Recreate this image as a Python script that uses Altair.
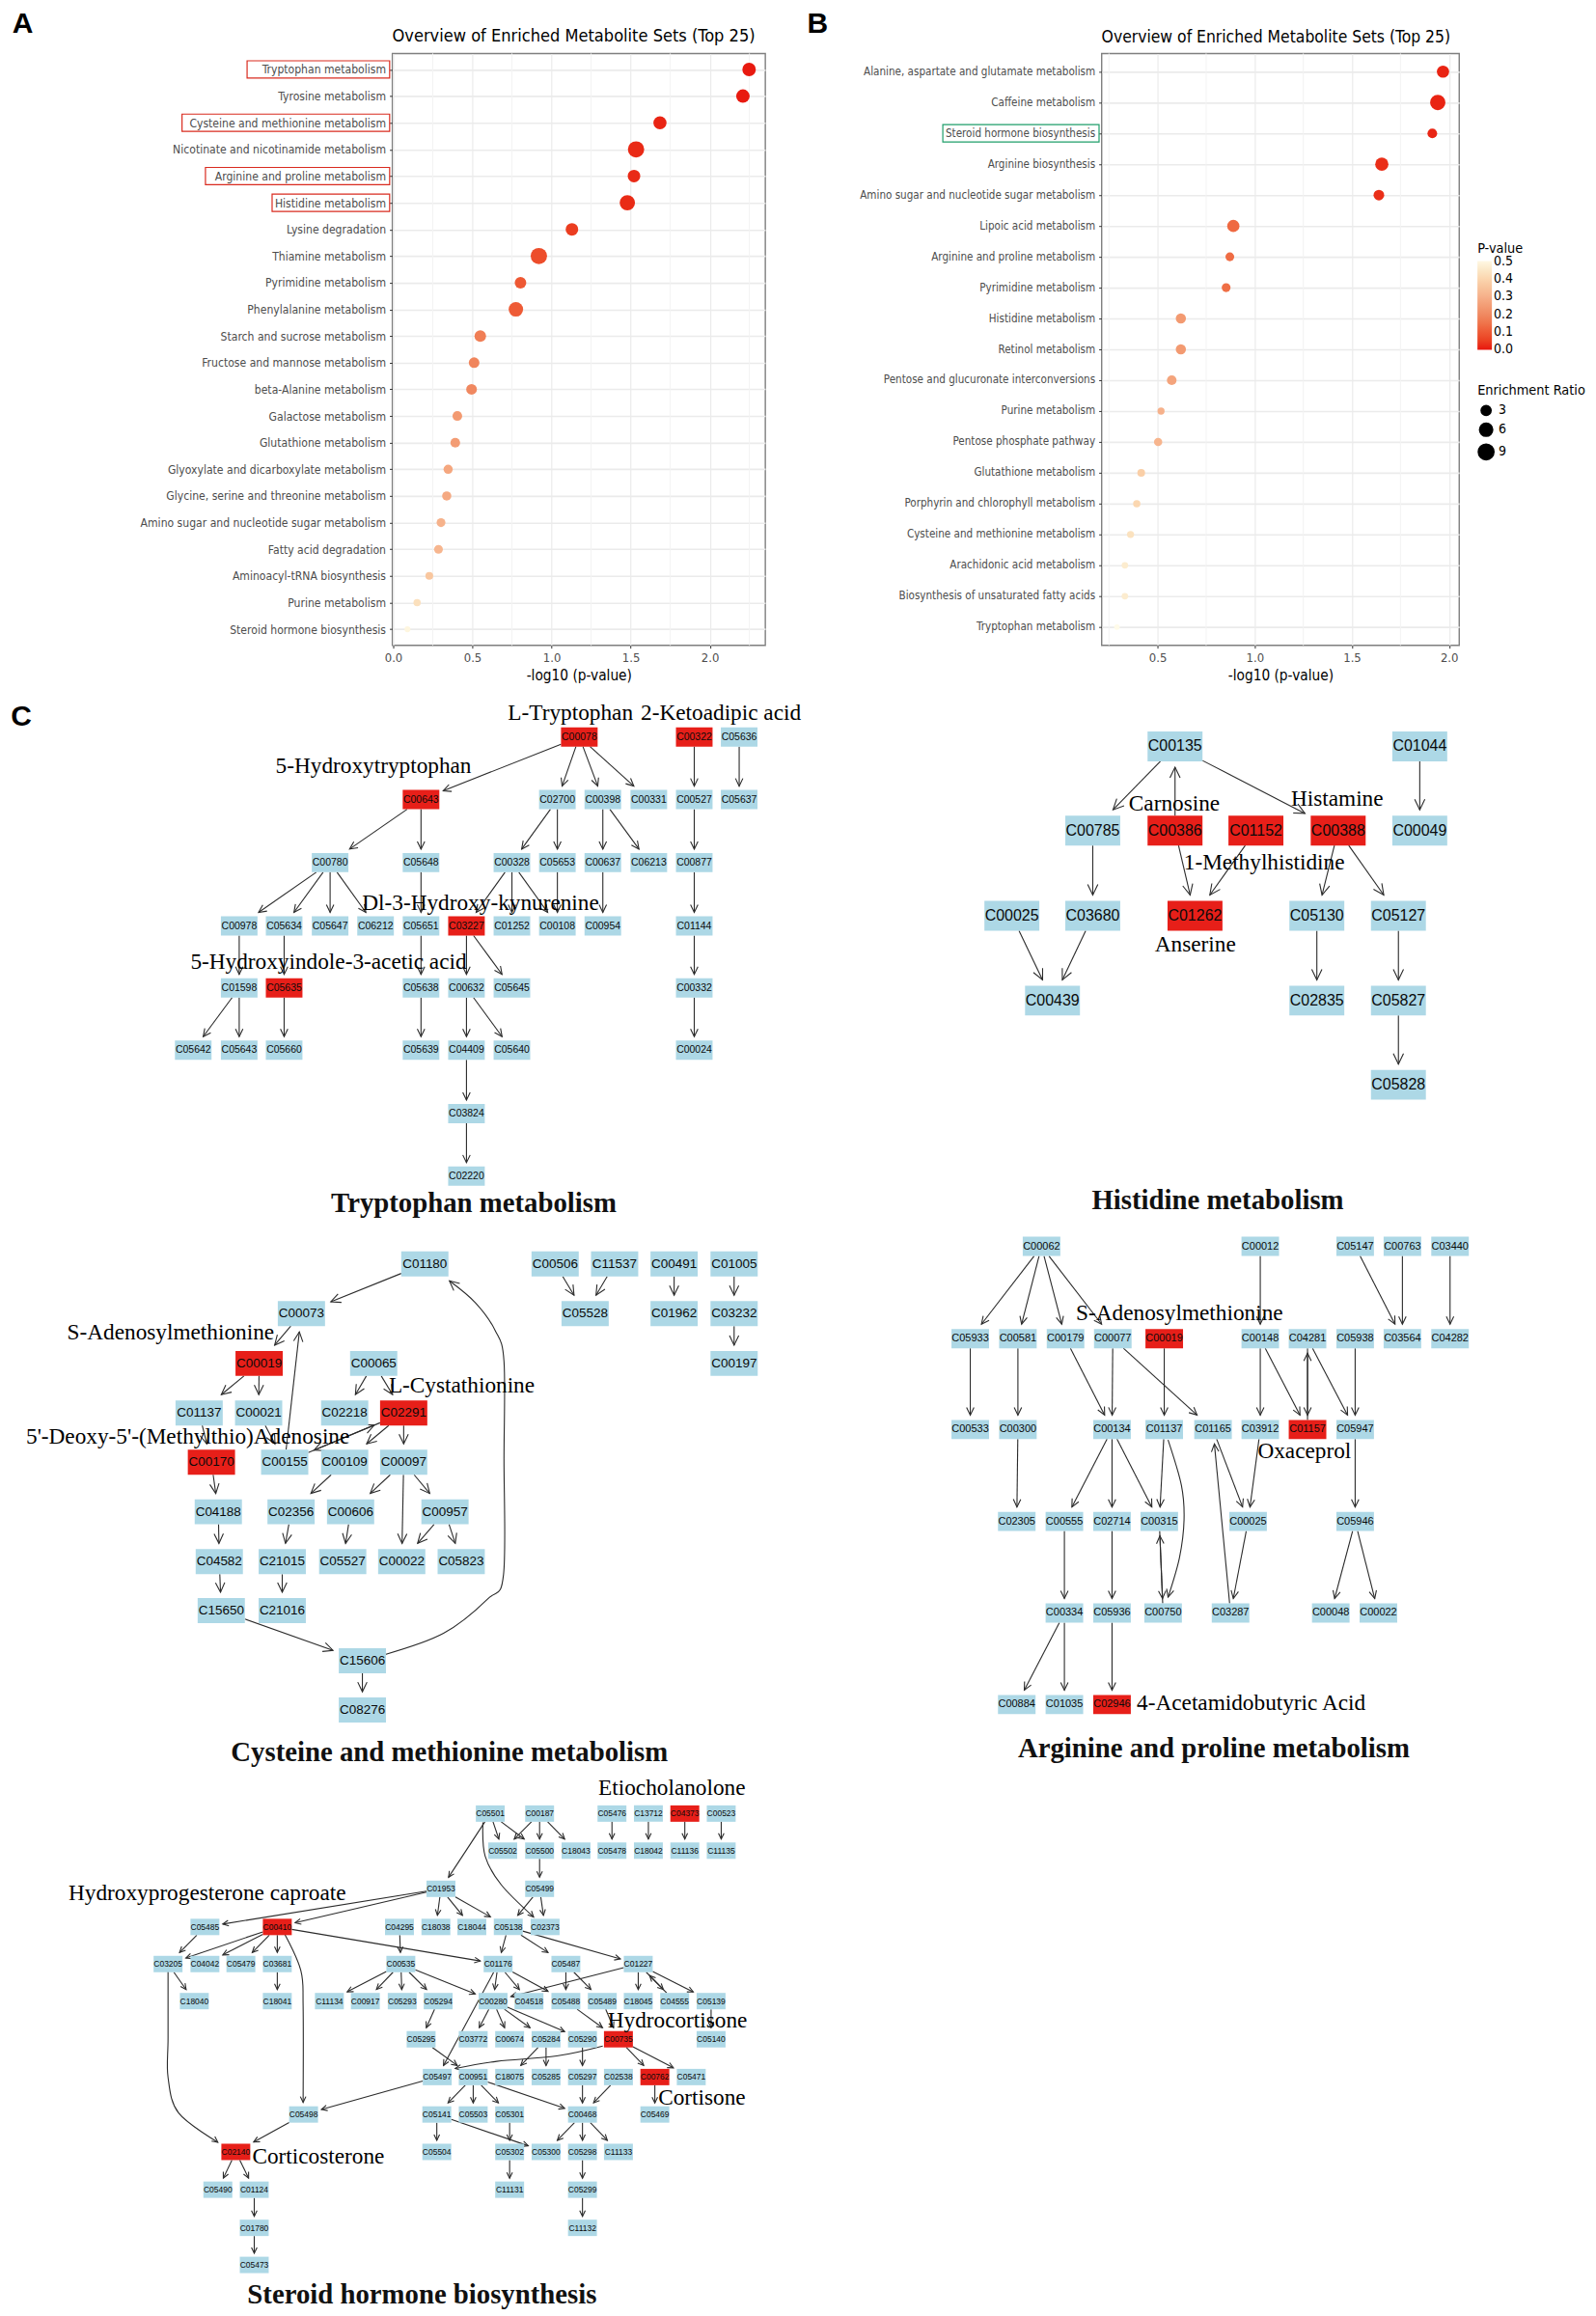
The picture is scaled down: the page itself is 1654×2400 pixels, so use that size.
import math
import altair as alt
import pandas as pd

UI = "DejaVu Sans Condensed"
SERIF = "Liberation Serif"
SANS = "Liberation Sans"

# ---------- Panel A ----------
a_names = ["Tryptophan metabolism","Tyrosine metabolism","Cysteine and methionine metabolism",
 "Nicotinate and nicotinamide metabolism","Arginine and proline metabolism","Histidine metabolism",
 "Lysine degradation","Thiamine metabolism","Pyrimidine metabolism","Phenylalanine metabolism",
 "Starch and sucrose metabolism","Fructose and mannose metabolism","beta-Alanine metabolism",
 "Galactose metabolism","Glutathione metabolism","Glyoxylate and dicarboxylate metabolism",
 "Glycine, serine and threonine metabolism","Amino sugar and nucleotide sugar metabolism",
 "Fatty acid degradation","Aminoacyl-tRNA biosynthesis","Purine metabolism","Steroid hormone biosynthesis"]
a_x = [2.248,2.209,1.685,1.534,1.521,1.479,1.129,0.92,0.804,0.775,0.55,0.511,0.495,0.405,0.392,0.347,0.338,0.302,0.286,0.228,0.151,0.09]
a_p = [0.006,0.006,0.02,0.03,0.03,0.033,0.074,0.12,0.157,0.168,0.282,0.308,0.32,0.394,0.405,0.45,0.46,0.5,0.518,0.592,0.706,0.813]
a_r = [6.4,6.4,6.0,9.9,5.4,8.6,5.4,9.9,4.4,7.5,4.4,3.6,3.6,2.8,2.8,2.4,2.4,2.1,2.1,1.4,1.1,0.4]
a_box_names = ["Tryptophan metabolism","Cysteine and methionine metabolism","Arginine and proline metabolism","Histidine metabolism"]
a_box_left = [-0.923,-1.334,-1.186,-0.765]
a_box_right = [-0.0225,-0.0225,-0.0225,-0.0225]

# ---------- Panel B ----------
b_names = ["Alanine, aspartate and glutamate metabolism","Caffeine metabolism","Steroid hormone biosynthesis",
 "Arginine biosynthesis","Amino sugar and nucleotide sugar metabolism","Lipoic acid metabolism",
 "Arginine and proline metabolism","Pyrimidine metabolism","Histidine metabolism","Retinol metabolism",
 "Pentose and glucuronate interconversions","Purine metabolism","Pentose phosphate pathway",
 "Glutathione metabolism","Porphyrin and chlorophyll metabolism","Cysteine and methionine metabolism",
 "Arachidonic acid metabolism","Biosynthesis of unsaturated fatty acids","Tryptophan metabolism"]
b_x = [1.969,1.942,1.914,1.654,1.639,0.89,0.872,0.853,0.62,0.62,0.573,0.518,0.503,0.416,0.393,0.361,0.332,0.332,0.291]
b_p = [0.011,0.011,0.012,0.022,0.023,0.129,0.134,0.14,0.24,0.24,0.267,0.303,0.314,0.384,0.405,0.435,0.466,0.466,0.512]
b_r = [5.1,8.6,2.8,6.1,3.6,5.1,2.1,2.1,3.2,3.2,2.8,1.0,1.7,1.4,1.1,1.0,0.7,0.7,0.2]
b_box_names = ["Steroid hormone biosynthesis"]
b_box_left = [-0.605]
b_box_right = [0.199]

color_stops = [-0.002,0.1,0.2,0.3,0.4,0.502]
color_range = ["#e8150e","#ee5a35","#f08a62","#f6b08a","#fbd5ae","#fff8e3"]

GRID = "#ebebeb"
def dot_panel(names,xs,ps,rs,domain,ticks,minor,box_names,box_l,box_r,box_col,p_dom,title,tsize,lsize,
              w,pad,letter,letter_x,legends):
    df = pd.DataFrame({"name":names,"x":xs,"p":ps,"r":rs})
    xscale = alt.Scale(domain=domain,nice=False,zero=False)
    yscale = alt.Scale(type="point",padding=pad,domain=names)
    xaxis = alt.Axis(values=ticks,format=".1f",title="-log10 (p-value)",grid=True,gridColor=GRID,gridWidth=1.2,
        domain=False,tickColor="#333333",tickSize=3,labelColor="#4d4d4d",labelFont=UI,labelFontSize=13,labelFlush=False,
        labelPadding=4,titleFont=UI,titleFontSize=15.3,titleFontWeight="normal",titleColor="black",titlePadding=4)
    yaxis = alt.Axis(title=None,grid=True,gridColor=GRID,gridWidth=1.6,domain=False,tickColor="#333333",tickSize=3,
        labelColor="#4d4d4d",labelFont=UI,labelFontSize=lsize,labelPadding=4,labelLimit=400)
    minor_l = alt.Chart(pd.DataFrame({"m":minor})).mark_rule(color="#f3f3f3",strokeWidth=1).encode(
        x=alt.X("m:Q",scale=xscale,axis=xaxis))
    if legends:
        col_leg = alt.Legend(title="P-value",type="gradient",values=[0,0.1,0.2,0.3,0.4,0.5],orient="none",
            legendX=390,legendY=196,gradientLength=92,gradientThickness=15,labelFont=UI,labelFontSize=14,
            labelColor="black",titleFont=UI,titleFontSize=14.4,titleFontWeight="normal",titleColor="black",
            format=".1f",labelOverlap=False,gradientStrokeWidth=0,titlePadding=5)
        size_leg = alt.Legend(title="Enrichment Ratio",values=[3,6,9],orient="none",legendX=390,legendY=343,
            labelFont=UI,labelFontSize=14,labelColor="black",titleFont=UI,titleFontSize=14.4,titleFontWeight="normal",
            titleColor="black",titleLimit=300,symbolFillColor="black",symbolStrokeColor="black",symbolType="circle",
            rowPadding=1,titlePadding=6)
        color = alt.Color("p:Q",scale=alt.Scale(domain=color_stops,range=color_range),legend=col_leg)
        size = alt.Size("r:Q",scale=alt.Scale(domain=[0,10],range=[28,290],zero=False),legend=size_leg)
    else:
        color = alt.Color("p:Q",scale=alt.Scale(domain=[max(s,0)*p_dom/0.5 for s in color_stops],range=color_range),legend=None)
        size = alt.Size("r:Q",scale=alt.Scale(domain=[0,10],range=[28,290],zero=False),legend=None)
    pts = alt.Chart(df).mark_circle(opacity=1).encode(
        x=alt.X("x:Q",scale=xscale,axis=xaxis),
        y=alt.Y("name:N",scale=yscale,axis=yaxis,sort=names),color=color,size=size)
    box = alt.Chart(pd.DataFrame({"name":box_names,"l":box_l,"r":box_r})).mark_bar(
        size=18,fill="transparent",stroke=box_col,strokeWidth=1.2).encode(
        x=alt.X("l:Q",scale=xscale,axis=xaxis),x2="r:Q",y=alt.Y("name:N",scale=yscale,axis=yaxis,sort=names))
    let = alt.Chart(pd.DataFrame({"t":[letter],"x":[letter_x]})).mark_text(font=SANS,fontWeight="bold",fontSize=30,
        color="black",align="center",baseline="middle").encode(
        x=alt.X("x:Q",scale=xscale,axis=xaxis),y=alt.value(-30),text="t:N")
    return alt.layer(minor_l,pts,box,let).properties(width=w,height=614,
        title=alt.TitleParams(title,anchor="start",frame="group",font=UI,fontSize=tsize,fontWeight="normal",color="black",offset=-37),
        view=alt.ViewBackground(stroke="#7f7f7f",strokeWidth=1.4)).resolve_scale(color="independent",size="independent")

A = dot_panel(a_names,a_x,a_p,a_r,[-0.006,2.35],[0,0.5,1,1.5,2],[0.25,0.75,1.25,1.75,2.25],a_box_names,a_box_left,a_box_right,
    "#d92b1f",0.82,"Overview of Enriched Metabolite Sets (Top 25)",18.1,12.1,387,0.6,"A",-2.34,False)
B = dot_panel(b_names,b_x,b_p,b_r,[0.212,2.052],[0.5,1,1.5,2],[0.25,0.75,1.25,1.75],b_box_names,b_box_left,b_box_right,
    "#1f9e6a",0.5,"Overview of Enriched Metabolite Sets (Top 25)",17.4,11.6,371,0.59,"B",-1.25,True)

# ---------- Panel C: pathway graphs, positions read in crop coordinates ----------
trp = dict(x0=0,y0=710,W=850,H=560,w=38,h=20,fs=10.5,gap=4,head=8,
 rows=[(146,[("C00078",1107),("C00322",1327),("C05636",1413)]),
 (328,[("C00643",804),("C02700",1065),("C00398",1152),("C00331",1240),("C00527",1327),("C05637",1413)]),
 (511,[("C00780",630),("C05648",804),("C00328",978),("C05653",1065),("C00637",1152),("C06213",1240),("C00877",1327)]),
 (695,[("C00978",456),("C05634",542),("C05647",630),("C06212",717),("C05651",804),("C03227",891),("C01252",978),("C00108",1065),("C00954",1152),("C01144",1327)]),
 (875,[("C01598",456),("C05635",542),("C05638",804),("C00632",891),("C05645",978),("C00332",1327)]),
 (1056,[("C05642",368),("C05643",456),("C05660",542),("C05639",804),("C04409",891),("C05640",978),("C00024",1327)]),
 (1240,[("C03824",891)]),(1422,[("C02220",891)])],
 red=["C00078","C00322","C00643","C03227","C05635"],
 edges={"C00078":["C00643","C02700","C00398","C00331"],"C00322":["C00527"],"C05636":["C05637"],
 "C00643":["C00780","C05648"],"C02700":["C00328","C05653"],"C00398":["C00637","C06213"],"C00527":["C00877"],
 "C00780":["C00978","C05634","C05647","C06212"],"C05648":["C05651"],"C00328":["C03227","C01252","C00108"],
 "C05653":["C00108"],"C00637":["C00954"],"C00877":["C01144"],"C00978":["C01598"],"C05634":["C05635"],
 "C05651":["C05638"],"C03227":["C00632","C05645"],"C01144":["C00332"],"C01598":["C05642","C05643"],
 "C05635":["C05660"],"C05638":["C05639"],"C00632":["C04409","C05640"],"C00332":["C00024"],"C04409":["C03824"],"C03824":["C02220"]},
 curves=[],
 names=[("L-Tryptophan",1090,78),("2-Ketoadipic acid",1378,78),("5-Hydroxytryptophan",713,230),
 ("Dl-3-Hydroxy-kynurenine",918,628),("5-Hydroxyindole-3-acetic acid",627,800)],
 title=("Tryptophan metabolism",905,1500))

his = dict(x0=1000,y0=720,W=560,H=550,w=57,h=31,fs=16,gap=6,head=11,
 rows=[(148,[("C00135",611),("C01044",1322)]),
 (397,[("C00785",372),("C00386",611),("C01152",846),("C00388",1085),("C00049",1322)]),
 (649,[("C00025",137),("C03680",372),("C01262",669),("C05130",1023),("C05127",1260)]),
 (900,[("C00439",255),("C02835",1023),("C05827",1260)]),(1149,[("C05828",1260)])],
 red=["C00386","C01152","C00388","C01262"],
 edges={"C00135":["C00785","C00388"],"C00386":["C00135","C01262"],"C01044":["C00049"],"C00785":["C03680"],
 "C01152":["C01262"],"C00388":["C05130","C05127"],"C00025":["C00439"],"C03680":["C00439"],"C05130":["C02835"],
 "C05127":["C05827"],"C05827":["C05828"]},
 curves=[],
 names=[("Carnosine",609,318),("Histamine",1082,303),("1-Methylhistidine",870,492),("Anserine",670,735)],
 title=("Histidine metabolism",735,1490))

cys = dict(x0=0,y0=1260,W=800,H=560,w=49,h=26,fs=13.5,gap=6,head=10,
 rows=[(137,[("C01180",862),("C00506a",1127),("C11537",1248),("C00491",1369),("C01005",1491)]),
 (281,[("C00073",611),("C05528",1188),("C01962",1369),("C03232",1491)]),
 (426,[("C00019",525),("C00065",758),("C00197",1491)]),
 (570,[("C01137",403),("C00021",524),("C02218",699),("C02291",819)]),
 (713,[("C00170",428),("C00155",577),("C00109",699),("C00097",819)]),
 (857,[("C04188",442),("C02356",590),("C00606",711),("C00957",903)]),
 (1002,[("C04582",444),("C21015",572),("C05527",695),("C00022",815),("C05823",936)]),
 (1144,[("C15650",448),("C21016",572)]),(1290,[("C15606",735)]),(1433,[("C08276",735)])],
 red=["C00019","C02291","C00170"],
 edges={"C01180":["C00073"],"C00073":["C00019"],"C00155":["C00073","C02291"],"C00019":["C01137","C00021"],
 "C00065":["C02218","C02291"],"C01137":["C00170"],"C00021":["C00155"],"C02291":["C00155","C00109","C00097"],
 "C00170":["C04188"],"C00109":["C02356"],"C00097":["C00606","C00022","C00957"],"C00957":["C00022","C05823"],
 "C02356":["C21015"],"C00606":["C05527"],"C04188":["C04582"],"C04582":["C15650"],"C21015":["C21016"],
 "C15650":["C15606"],"C15606":["C08276"],"C00506a":["C05528"],"C11537":["C05528"],"C00491":["C01962"],
 "C01005":["C03232"],"C03232":["C00197"]},
 curves=[[(780,1272),(900,1210),(990,1110),(1022,1040),(1023,700),(1023,420),(1005,330),(965,250),(912,186)]],
 names=[("S-Adenosylmethionine",345,338),("L-Cystathionine",937,490),("5'-Deoxy-5'-(Methylthio)Adenosine",380,640)],
 title=("Cysteine and methionine metabolism",912,1555))

arg = dict(x0=950,y0=1260,W=620,H=560,w=39,h=20,fs=11,gap=5,head=8,
 rows=[(86,[("C00062",328),("C00012",902),("C05147",1151),("C00763",1275),("C03440",1400)]),
 (354,[("C05933",141),("C00581",266),("C00179",391),("C00077",515),("C00019",650),("C00148",902),("C04281",1026),("C05938",1151),("C03564",1275),("C04282",1400)]),
 (618,[("C00533",141),("C00300",266),("C00134",513),("C01137",650),("C01165",778),("C03912",902),("C01157",1026),("C05947",1151)]),
 (885,[("C02305",263),("C00555",388),("C02714",513),("C00315",637),("C00025",870),("C05946",1151)]),
 (1151,[("C00334",388),("C05936",513),("C00750",647),("C03287",824),("C00048",1087),("C00022",1212)]),
 (1417,[("C00884",263),("C01035",388),("C02946",513)])],
 red=["C00019","C01157","C02946"],
 edges={"C00062":["C05933","C00581","C00179","C00077"],"C00012":["C00148"],"C05147":["C03564"],"C00763":["C03564"],
 "C03440":["C04282"],"C05933":["C00533"],"C00581":["C00300"],"C00179":["C00134"],"C00077":["C00134","C01165"],
 "C00019":["C01137"],"C00148":["C03912","C01157"],"C01157":["C04281"],"C04281":["C01157","C05947"],"C05938":["C05947"],
 "C00300":["C02305"],"C00134":["C00555","C02714","C00315"],"C01137":["C00315"],"C01165":["C00025"],"C03287":["C01165"],
 "C03912":["C00025"],"C05947":["C05946"],"C00555":["C00334"],"C02714":["C05936"],"C00315":["C00750"],"C00750":["C00315"],
 "C00025":["C03287"],"C05946":["C00048","C00022"],"C00334":["C00884","C01035"],"C05936":["C02946"]},
 curves=[[(660,648),(695,780),(702,880),(690,990),(660,1105)]],
 names=[("S-Adenosylmethionine",690,280),("Oxaceprol",1018,682),("4-Acetamidobutyric Acid",878,1413)],
 title=("Arginine and proline metabolism",780,1545))

ste = dict(x0=60,y0=1820,W=750,H=580,w=30,h=17,fs=8.5,gap=3.5,head=6,
 rows=[(160,[("C05501",936),("C00187",1043),("C05476",1200),("C13712",1279),("C04373",1358),("C00523",1437)]),
 (264,[("C05502",963),("C05500",1043),("C18043",1122),("C05478",1200),("C18042",1279),("C11136",1358),("C11135",1437)]),
 (371,[("C01953",829),("C05499",1043)]),
 (478,[("C05485",317),("C00410",474),("C04295",739),("C18038",818),("C18044",896),("C05138",975),("C02373",1055)]),
 (582,[("C03205",237),("C04042",317),("C05479",395),("C03681",474),("C00535",742),("C01176",953),("C05487",1100),("C01227",1257)]),
 (686,[("C18040",294),("C18041",474),("C11134",587),("C00917",665),("C05293",745),("C05294",823),("C00280",942),("C04518",1020),("C05488",1100),("C05489",1179),("C18045",1257),("C04555",1336),("C05139",1415)]),
 (793,[("C05295",786),("C03772",899),("C00674",978),("C05284",1057),("C05290",1136),("C00735",1214),("C05140",1415)]),
 (899,[("C05497",821),("C00951",899),("C18075",978),("C05285",1057),("C05297",1136),("C02538",1214),("C00762",1293),("C05471",1372)]),
 (1004,[("C05498",531),("C05141",820),("C05503",899),("C05301",978),("C00468",1136),("C05469",1293)]),
 (1109,[("C02140",384),("C05504",820),("C05302",978),("C05300",1057),("C05298",1136),("C11133",1214)]),
 (1215,[("C05490",345),("C01124",424),("C11131",978),("C05299",1136)]),
 (1322,[("C01780",424),("C11132",1136)]),(1426,[("C05473",424)])],
 red=["C04373","C00410","C00735","C00762","C02140"],
 edges={"C05501":["C01953","C05502","C05500"],"C00187":["C05502","C05500","C18043"],"C05500":["C05499"],
 "C05476":["C05478"],"C13712":["C18042"],"C04373":["C11136"],"C00523":["C11135"],"C05499":["C05138","C02373"],
 "C01953":["C05485","C00410","C18038","C18044","C05138"],"C00410":["C01176","C03205","C04042","C05479","C03681"],
 "C05485":["C03205"],"C03205":["C18040"],"C03681":["C18041"],"C04295":["C00535"],
 "C00535":["C11134","C00917","C05293","C05294","C00280"],"C05138":["C01176","C05487","C01227"],
 "C01176":["C05497","C00280","C04518","C05488"],"C05487":["C05488","C05489"],"C01227":["C00280","C18045","C04555","C05139"],
 "C04555":["C01227"],"C05139":["C05140"],"C00280":["C03772","C00674","C05284","C05290"],"C05294":["C05295"],
 "C05295":["C00951"],"C05488":["C00735"],"C05489":["C00735"],"C00735":["C00762","C05471"],"C05284":["C18075","C05285"],
 "C05290":["C05297"],"C05297":["C00468"],"C02538":["C00468"],"C00951":["C05141","C05503","C05301","C00468"],
 "C05497":["C05498"],"C05498":["C02140"],"C00762":["C05469"],"C05141":["C05300","C05504"],"C05301":["C05302"],
 "C00468":["C05300","C05298","C11133"],"C05302":["C11131"],"C05298":["C05299"],"C05299":["C11132"],
 "C02140":["C05490","C01124"],"C01124":["C01780"],"C01780":["C05473"]},
 curves=[[(920,185),(925,280),(960,360),(1030,450)],
 [(237,603),(237,790),(237,900),(260,1000),(345,1082)],
 [(490,498),(525,600),(530,700),(530,970)],
 [(1180,812),(1080,840),(950,855),(860,875)]],
 names=[("Etiocholanolone",1330,90),("Hydroxyprogesterone caproate",322,385),("Hydrocortisone",1342,742),
 ("Cortisone",1395,957),("Corticosterone",563,1122)],
 title=("Steroid hormone biosynthesis",788,1510))

pathways = [trp,his,cys,arg,ste]
Z = 1568.0
NAME_SIZE = 23.3
TITLE_SIZE = 28.8

node_rows,edge_rows,head_rows,curve_rows,name_rows,title_rows = [],[],[],[],[],[]

def box_exit(cx,cy,w,h,tx,ty):
    dx,dy = tx-cx,ty-cy
    t = min((w/2)/abs(dx) if dx else 9e9,(h/2)/abs(dy) if dy else 9e9)
    return cx+dx*t,cy+dy*t

def add_head(tipx,tipy,fromx,fromy,head):
    a = math.degrees(math.atan2(tipx-fromx,-(tipy-fromy)))%360
    head_rows.append({"x":tipx,"y":tipy,"a":a,"s":(2*head)**2})

cid = 0
for p in pathways:
    sx,sy = p["W"]/Z,p["H"]/Z
    tx = lambda v: p["x0"]+v*sx
    ty = lambda v: p["y0"]+v*sy
    pos = {}
    for zy,items in p["rows"]:
        for nid,zx in items:
            pos[nid] = (tx(zx),ty(zy))
            node_rows.append({"label":nid[:6],"x":tx(zx)-p["w"]/2,"x2":tx(zx)+p["w"]/2,"y":ty(zy)-p["h"]/2,
                "y2":ty(zy)+p["h"]/2,"cx":tx(zx),"cy":ty(zy),"kind":"hit" if nid in p["red"] else "ref","fs":p["fs"]})
    for src,dsts in p["edges"].items():
        for dst in dsts:
            ax,ay = pos[src]; bx,by = pos[dst]
            sxx,syy = box_exit(ax,ay,p["w"],p["h"],bx,by)
            ex,ey = box_exit(bx,by,p["w"]+2*p["gap"],p["h"]+2*p["gap"],ax,ay)
            edge_rows.append({"x":sxx,"y":syy,"x2":ex,"y2":ey})
            add_head(ex,ey,sxx,syy,p["head"])
    for c in p["curves"]:
        cid += 1
        pts = [(tx(a),ty(b)) for a,b in c]
        for i,(a,b) in enumerate(pts):
            curve_rows.append({"id":cid,"i":i,"x":a,"y":b})
        add_head(pts[-1][0],pts[-1][1],pts[-2][0],pts[-2][1],p["head"])
    for t,a,b in p["names"]:
        name_rows.append({"t":t,"x":tx(a),"y":ty(b)})
    t,a,b = p["title"]
    title_rows.append({"t":t,"x":tx(a),"y":ty(b)})

TOP = 722.0
LEFT = 406.0
RIGHT = 1646.0
BOTTOM = 2392.0
X = alt.X("x:Q",scale=alt.Scale(domain=[LEFT,RIGHT],nice=False,zero=False),axis=None)
Y = alt.Y("y:Q",scale=alt.Scale(domain=[BOTTOM,TOP],nice=False,zero=False),axis=None)
XC = alt.X("cx:Q",scale=alt.Scale(domain=[LEFT,RIGHT],nice=False,zero=False),axis=None)
YC = alt.Y("cy:Q",scale=alt.Scale(domain=[BOTTOM,TOP],nice=False,zero=False),axis=None)

nodes = pd.DataFrame(node_rows)
edges_l = alt.Chart(pd.DataFrame(edge_rows)).mark_rule(color="#2b2b2b",strokeWidth=1.1).encode(x=X,y=Y,x2="x2:Q",y2="y2:Q")
curves_l = alt.Chart(pd.DataFrame(curve_rows)).mark_line(color="#2b2b2b",strokeWidth=1.1,interpolate="cardinal").encode(
    x=X,y=Y,detail="id:N",order="i:Q")
heads_l = alt.Chart(pd.DataFrame(head_rows)).mark_point(shape="M-0.48,1L0,0L0.48,1",filled=False,color="#2b2b2b",
    strokeWidth=1.1,opacity=1).encode(x=X,y=Y,angle=alt.Angle("a:Q",scale=None),size=alt.Size("s:Q",scale=None))
rects_l = alt.Chart(nodes).mark_rect().encode(x=X,y=Y,x2="x2:Q",y2="y2:Q",
    color=alt.Color("kind:N",scale=alt.Scale(domain=["ref","hit"],range=["#add8e6","#e71f19"]),legend=None))
labels_l = alt.Chart(nodes).mark_text(font=SANS,color="#0a0a0a",baseline="middle",align="center").encode(
    x=XC,y=YC,text="label:N",size=alt.Size("fs:Q",scale=None))
names_l = alt.Chart(pd.DataFrame(name_rows)).mark_text(font=SERIF,fontSize=NAME_SIZE,color="black",baseline="middle",align="center").encode(
    x=X,y=Y,text="t:N")
titles_l = alt.Chart(pd.DataFrame(title_rows)).mark_text(font=SERIF,fontWeight="bold",fontSize=TITLE_SIZE,color="#111111",baseline="middle",align="center").encode(
    x=X,y=Y,text="t:N")
c_let = alt.Chart(pd.DataFrame({"t":["C"],"x":[21.0],"y":[741.0]})).mark_text(font=SANS,fontWeight="bold",fontSize=30,color="black",
    baseline="middle",align="center").encode(x=X,y=Y,text="t:N")

C = alt.layer(edges_l,curves_l,heads_l,rects_l,labels_l,names_l,titles_l,c_let).resolve_scale(color="independent",size="independent").properties(
    width=RIGHT-LEFT,height=BOTTOM-TOP,view=alt.ViewBackground(stroke="transparent"))

top = alt.hconcat(A,B,spacing=349,bounds="flush")
chart = alt.vconcat(top,C,spacing=14).properties(padding={"left":2,"top":0,"right":0,"bottom":0}).configure(background="white")
chart.save("out.html", embed_options={"renderer": "svg", "actions": False})
